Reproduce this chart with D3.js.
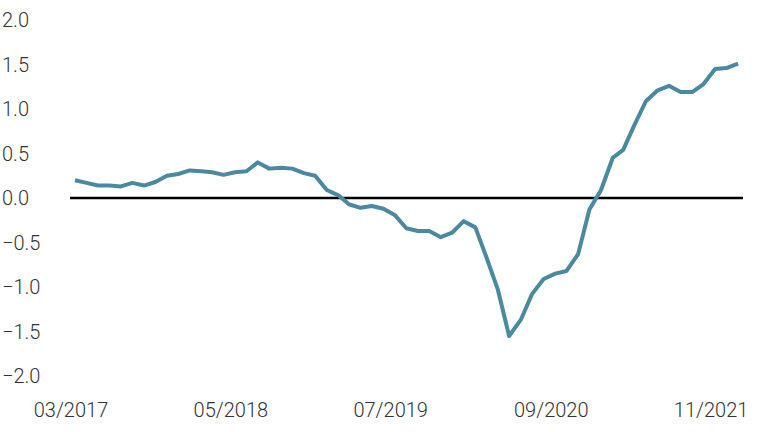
<!DOCTYPE html>
<html>
<head>
<meta charset="utf-8">
<script src="https://cdn.jsdelivr.net/npm/d3@7"></script>
<style>
  body { margin: 0; background: #fff; }
  text { font-family: Roboto, sans-serif; font-weight: 300; }
</style>
</head>
<body>
<svg id="chart"></svg>
<script>
const startMonth = "03/2017";
const values = [0.20, 0.17, 0.14, 0.14, 0.13, 0.17, 0.14, 0.18, 0.25, 0.27,
  0.31, 0.30, 0.29, 0.26, 0.29, 0.30, 0.40, 0.33, 0.34, 0.33,
  0.28, 0.25, 0.09, 0.03, -0.07, -0.11, -0.09, -0.12, -0.19, -0.34,
  -0.37, -0.37, -0.44, -0.39, -0.26, -0.33, -0.66, -1.03, -1.55, -1.37,
  -1.08, -0.91, -0.85, -0.82, -0.63, -0.13, 0.09, 0.45, 0.54, 0.83,
  1.09, 1.21, 1.26, 1.19, 1.19, 1.28, 1.45, 1.46, 1.51];
const yTicks = [2.0, 1.5, 1.0, 0.5, 0.0, -0.5, -1.0, -1.5, -2.0];
const xTickIdx = [0, 14, 28, 42, 56];

const parse = d3.timeParse("%m/%Y");
const t0 = parse(startMonth);
const data = values.map((v, i) => ({ date: d3.timeMonth.offset(t0, i), v }));

const width = 762, height = 432;
const margin = { top: 20, right: 24, bottom: 56, left: 75 };
const svg = d3.select("#chart").attr("width", width).attr("height", height);

const x = d3.scaleTime()
  .domain([data[0].date, data[data.length - 1].date])
  .range([margin.left, width - margin.right]);
const y = d3.scaleLinear().domain([-2, 2]).range([height - margin.bottom, margin.top]);

// y labels
svg.append("g").selectAll("text").data(yTicks).join("text")
  .attr("x", 2).attr("y", d => y(d)).attr("dy", "0.35em")
  .attr("font-size", 20).attr("fill", "#333")
  .text(d => d3.format(".1f")(d));

// x labels
const fmt = d3.timeFormat("%m/%Y");
svg.append("g").selectAll("text").data(xTickIdx).join("text")
  .attr("x", i => x(data[i].date) - 4).attr("y", 417)
  .attr("text-anchor", "middle")
  .attr("font-size", 20).attr("fill", "#333")
  .text(i => fmt(data[i].date));

// zero line
svg.append("line")
  .attr("x1", 70).attr("x2", 743)
  .attr("y1", y(0)).attr("y2", y(0))
  .attr("stroke", "#000").attr("stroke-width", 2.5);

svg.append("path")
  .attr("d", d3.line().x(d => x(d.date)).y(d => y(d.v))(data))
  .attr("fill", "none").attr("stroke", "#4a8aa0").attr("stroke-width", 4)
  .attr("stroke-linejoin", "round");
</script>
</body>
</html>
